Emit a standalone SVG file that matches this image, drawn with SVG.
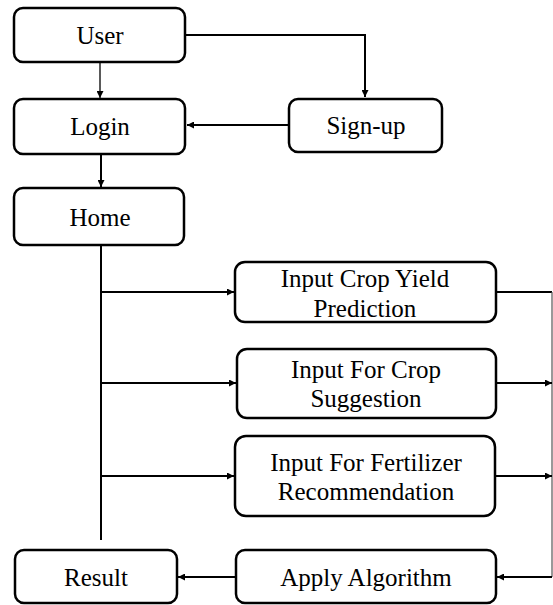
<svg xmlns="http://www.w3.org/2000/svg" width="553" height="605" viewBox="0 0 553 605">
<defs>
<marker id="ah" viewBox="0 0 10 10" refX="10" refY="5" markerWidth="8" markerHeight="7" markerUnits="userSpaceOnUse" orient="auto">
<path d="M0,0 L10,5 L0,10 z" fill="#000"/>
</marker>
</defs>
<style>
.box{fill:#fff;stroke:#000;stroke-width:2.5}
.t{font-family:"Liberation Serif","Times New Roman",serif;font-size:25px;fill:#000;text-anchor:middle}
.c{fill:none;stroke:#000;stroke-width:2}
.thin{fill:none;stroke:#000;stroke-width:1.3}
.edge{fill:none;stroke:#555;stroke-width:1.2}
</style>
<rect width="553" height="605" fill="#fff"/>
<g id="connectors">
<path class="thin" d="M100,62 V98" marker-end="url(#ah)"/>
<path class="c" d="M185,35 H365 V97" marker-end="url(#ah)"/>
<path class="c" d="M289,125 H187" marker-end="url(#ah)"/>
<path class="c" d="M101,154 V187" marker-end="url(#ah)"/>
<path class="c" d="M101,245 V540"/>
<path class="c" d="M101,292 H234" marker-end="url(#ah)"/>
<path class="c" d="M101,383 H236" marker-end="url(#ah)"/>
<path class="c" d="M101,476 H234" marker-end="url(#ah)"/>
<path class="c" d="M496,292 H552"/>
<path class="edge" d="M552,292 V577"/>
<path class="c" d="M497,383 H552" marker-end="url(#ah)"/>
<path class="c" d="M496,476 H552" marker-end="url(#ah)"/>
<path class="c" d="M552,577 H497" marker-end="url(#ah)"/>
<path class="c" d="M236,577 H178" marker-end="url(#ah)"/>
</g>
<g id="user"><rect class="box" x="14" y="8" width="171" height="54" rx="9"/><text class="t" x="100" y="44">User</text></g>
<g id="login"><rect class="box" x="14" y="99" width="171" height="55" rx="9"/><text class="t" x="100" y="135">Login</text></g>
<g id="signup"><rect class="box" x="289" y="99" width="153" height="53" rx="9"/><text class="t" x="366" y="134">Sign-up</text></g>
<g id="home"><rect class="box" x="14" y="188" width="170" height="57" rx="9"/><text class="t" x="100" y="226">Home</text></g>
<g id="cropyield"><rect class="box" x="235" y="262" width="261" height="60" rx="10"/><text class="t" x="365" y="287">Input Crop Yield</text><text class="t" x="365" y="317">Prediction</text></g>
<g id="cropsuggestion"><rect class="box" x="237" y="349" width="259" height="69" rx="10"/><text class="t" x="366" y="378">Input For Crop</text><text class="t" x="366" y="407">Suggestion</text></g>
<g id="fertilizer"><rect class="box" x="235" y="436" width="260" height="80" rx="11"/><text class="t" x="366" y="471">Input For Fertilizer</text><text class="t" x="366" y="500">Recommendation</text></g>
<g id="result"><rect class="box" x="15" y="550" width="162" height="53" rx="9"/><text class="t" x="96" y="586">Result</text></g>
<g id="apply"><rect class="box" x="236" y="550" width="260" height="53" rx="9"/><text class="t" x="366" y="586">Apply Algorithm</text></g>
</svg>
